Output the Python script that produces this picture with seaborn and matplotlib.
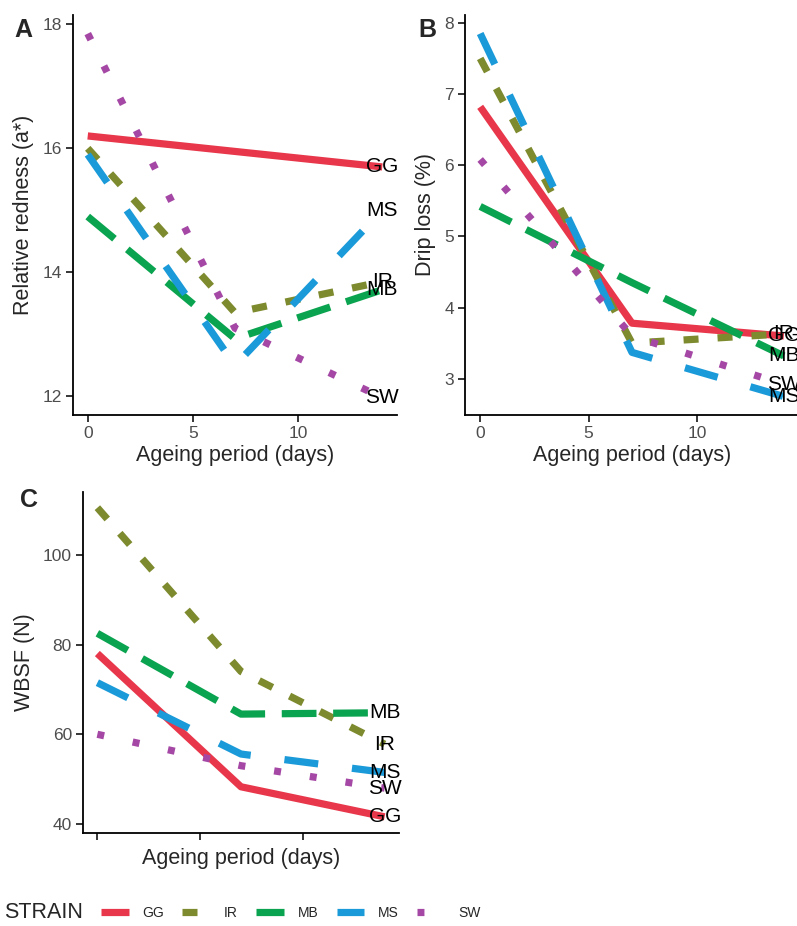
import matplotlib
matplotlib.use("Agg")
import matplotlib.pyplot as plt
import seaborn as sns
import pandas as pd

# =========================
# DATA
# =========================
strains = ["GG", "IR", "MB", "MS", "SW"]
days = [0, 7, 14]

redness = {
    "GG": [16.2, 15.95, 15.7],
    "IR": [16.0, 13.35, 13.85],
    "MB": [14.9, 12.93, 13.72],
    "MS": [15.9, 12.5, 15.0],
    "SW": [17.85, 13.1, 11.98],
}
drip = {
    "GG": [6.82, 3.78, 3.6],
    "IR": [7.5, 3.5, 3.63],
    "MB": [5.42, 4.35, 3.32],
    "MS": [7.85, 3.37, 2.75],
    "SW": [6.08, 3.6, 2.92],
}
wbsf = {
    "GG": [78.0, 48.3, 41.6],
    "IR": [110.5, 74.0, 57.8],
    "MB": [82.5, 64.5, 64.8],
    "MS": [71.5, 55.6, 51.5],
    "SW": [60.0, 53.0, 48.0],
}

colores = {"GG": "#E8374A", "IR": "#7E8A2E", "MB": "#0AA34F",
           "MS": "#1A9AD9", "SW": "#A548A5"}
# dash patterns in points (not scaled by line width)
tracos = {"GG": "", "IR": (10.8, 13.7), "MB": (25, 12),
          "MS": (24.5, 24.5), "SW": (5, 21)}

# =========================
# STYLE
# =========================
sns.set_theme(style="white")
plt.rcParams["font.family"] = ["Liberation Sans", "DejaVu Sans"]
plt.rcParams["lines.scale_dashes"] = False
plt.rcParams["lines.solid_capstyle"] = "butt"
plt.rcParams["lines.dash_capstyle"] = "butt"


def longo(d):
    linhas = []
    for s in strains:
        for x, v in zip(days, d[s]):
            linhas.append({"day": x, "value": v, "STRAIN": s})
    return pd.DataFrame(linhas)


fig = plt.figure(figsize=(7.97, 9.26), dpi=100)
W, H = 797, 926


def eixo(l, r, t, b):
    return fig.add_axes([l / W, 1 - b / H, (r - l) / W, (b - t) / H])


ax_a = eixo(73, 397, 15, 415)
ax_b = eixo(465, 799, 15, 415)
ax_c = eixo(83, 399, 492, 833)

paineis = [
    (ax_a, redness, "Relative redness (a*)", (11.7, 18.15), [12, 14, 16, 18], True),
    (ax_b, drip, "Drip loss (%)", (2.49, 8.11), [3, 4, 5, 6, 7, 8], True),
    (ax_c, wbsf, "WBSF (N)", (38.0, 114.0), [40, 60, 80, 100], False),
]

for ax, d, ylab, ylim, yt, xlabels in paineis:
    df = longo(d)
    sns.lineplot(data=df, x="day", y="value", hue="STRAIN", style="STRAIN",
                 palette=colores, dashes=tracos, linewidth=5.2,
                 errorbar=None, legend=False, ax=ax)
    for s in strains:
        ax.text(days[-1], d[s][-1], s, ha="center", va="center",
                fontsize=15, color="black", clip_on=False)
    ax.set_xlim(-0.7, 14.7)
    ax.set_ylim(*ylim)
    ax.set_yticks(yt)
    ax.set_xticks([0, 5, 10])
    if not xlabels:
        ax.set_xticklabels([])
    ax.set_xlabel("Ageing period (days)", fontsize=15.5, labelpad=3)
    ax.set_ylabel(ylab, fontsize=15.5, labelpad=6)
    for sp in ["top", "right"]:
        ax.spines[sp].set_visible(False)
    for sp in ["left", "bottom"]:
        ax.spines[sp].set_color("black")
        ax.spines[sp].set_linewidth(1.3)
    ax.tick_params(axis="both", which="major", length=5, width=1.1,
                   color="black", labelsize=12.5, labelcolor="#4D4D4D",
                   left=True, bottom=True, pad=3)

fig.text(14 / W, 1 - 30 / H, "A", fontsize=18, fontweight="bold", va="center")
fig.text(418 / W, 1 - 30 / H, "B", fontsize=18, fontweight="bold", va="center")
fig.text(20 / W, 1 - 500 / H, "C", fontsize=18, fontweight="bold", va="center")

# legend
fig.text(4 / W, 1 - 913 / H, "STRAIN", fontsize=15.5, va="center")
handles = ax_a.get_lines()[:5]
fig.legend(handles, strains, loc="center left",
           bbox_to_anchor=(101 / W, 1 - 913 / H), ncol=5, frameon=False,
           fontsize=10, handlelength=2.0, handletextpad=1.0,
           columnspacing=1.3, borderpad=0, borderaxespad=0)

fig.savefig("out.png", dpi=100)
